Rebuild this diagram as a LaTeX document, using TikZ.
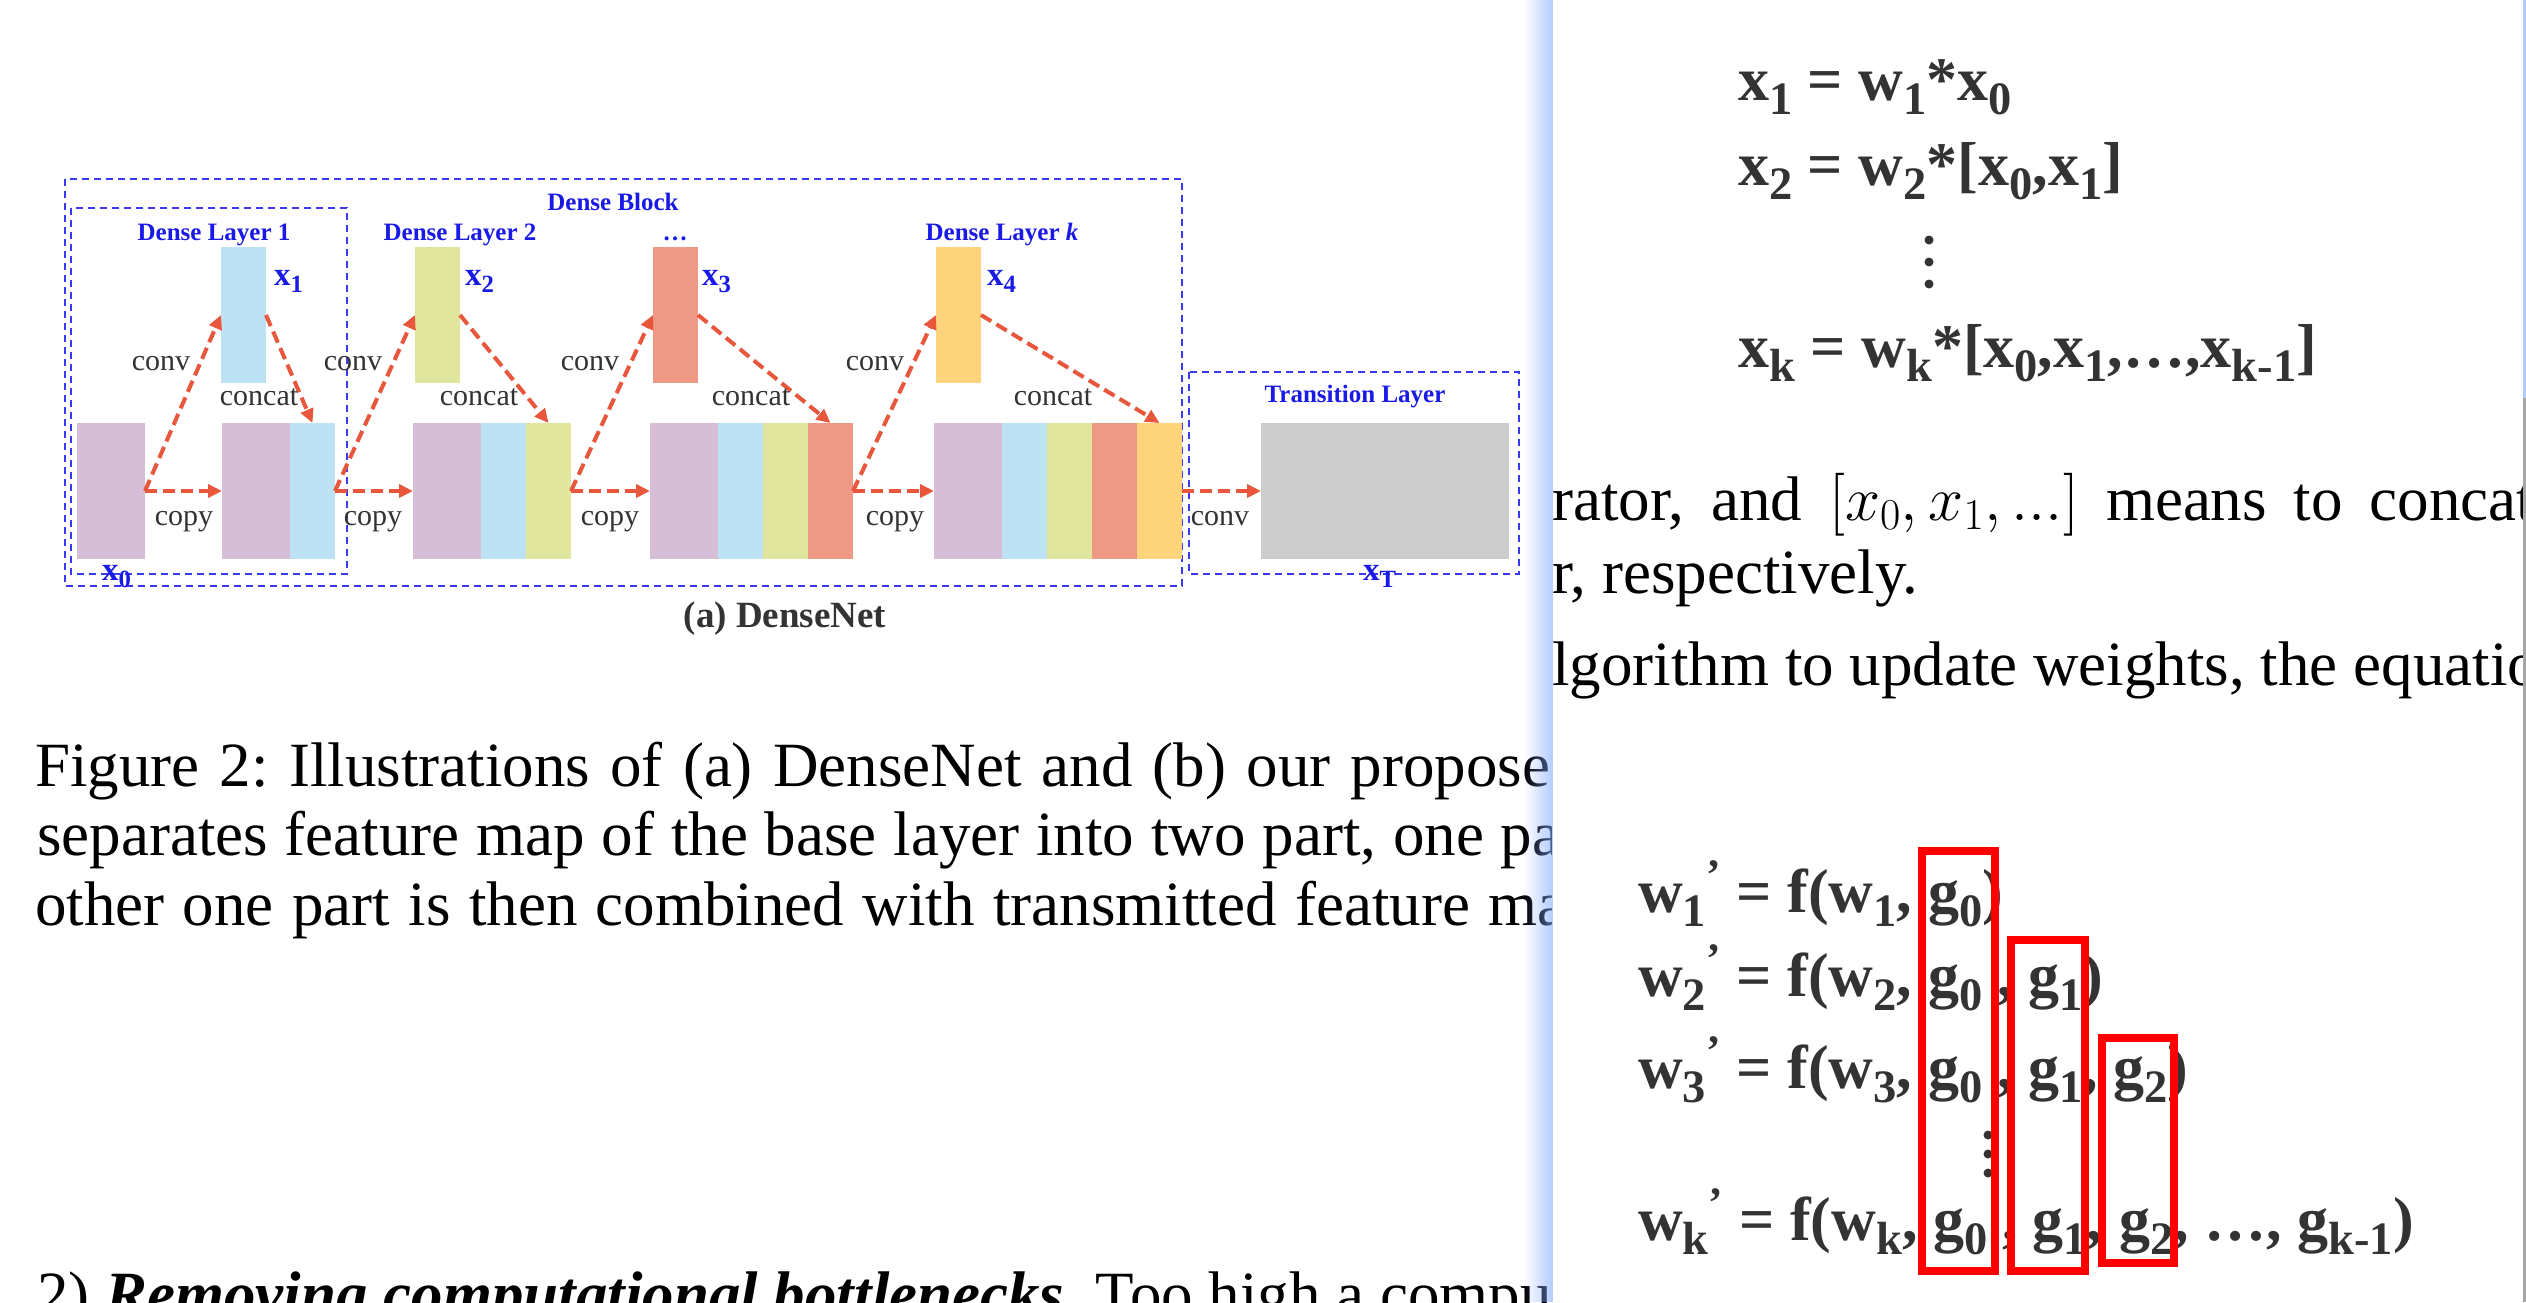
\RequirePackage{fix-cm}
\documentclass[tikz,border=0pt]{standalone}
\usepackage{fontspec}
\setmainfont{Liberation Serif}
\usetikzlibrary{arrows.meta,positioning}
\frenchspacing

\definecolor{purp}{HTML}{D7BED7}
\definecolor{sky}{HTML}{BDE2F3}
\definecolor{lime}{HTML}{E1E69F}
\definecolor{salmon}{HTML}{EE9886}
\definecolor{amber}{HTML}{FDD47C}
\definecolor{slab}{HTML}{CCCCCC}
\definecolor{arrowred}{HTML}{E8563C}
\definecolor{boxblue}{HTML}{3A3AF5}
\definecolor{labblue}{HTML}{1A1AE6}
\definecolor{ink}{HTML}{333333}
\definecolor{winblue}{HTML}{7FA8FF}
\definecolor{markred}{HTML}{FF0000}

% large, low subscripts as in the scanned equations
\newcommand{\lowsub}[1]{\raisebox{-0.24em}{\scalebox{0.75}{#1}}}

\tikzset{
  bar/.style={inner sep=0pt, outer sep=0pt, minimum width=45, minimum height=136, anchor=west},
  flow/.style={-{Triangle[length=14pt,width=13pt]}, arrowred, line width=4pt, dash pattern=on 12pt off 6pt},
  dashframe/.style={boxblue, line width=2pt, dash pattern=on 7pt off 5pt},
  blocktitle/.style={text=labblue, font=\bfseries\fontsize{25}{30}\selectfont, anchor=base, inner sep=0pt},
  fmap/.style={text=labblue, font=\bfseries\fontsize{33}{36}\selectfont, anchor=base west, inner sep=0pt},
  oplabel/.style={text=ink, font=\fontsize{30}{36}\selectfont, anchor=base, inner sep=0pt},
  body/.style={text=black, font=\fontsize{63}{70}\selectfont, anchor=base west, inner sep=0pt},
  eq/.style={text=ink, font=\bfseries\fontsize{62}{70}\selectfont, anchor=base west, inner sep=0pt},
  hilite/.style={draw=markred, line width=8pt}
}

\begin{document}
\begin{tikzpicture}[x=1pt, y=-1pt]
  % screen area
  \path[use as bounding box, fill=white] (0,0) rectangle (2526,1302);
  \clip (0,0) rectangle (2526,1302);

  % Dense block and layer frames
  \draw[dashframe] (65,179) rectangle (1182,586);
  \draw[dashframe] (71,208) rectangle (347,574);
  \draw[dashframe] (1189,372) rectangle (1519,574);

  % Input feature map
  \node[bar, fill=purp, minimum width=68] (b0) at (77,491) {};
  % Dense layer 1
  \node[bar, fill=sky] (x1) at (221,315) {};
  \node[bar, fill=purp, minimum width=68] (c1a) at (222,491) {};
  \node[bar, fill=sky, right=0pt of c1a] (c1b) {};
  % Dense layer 2
  \node[bar, fill=lime] (x2) at (415,315) {};
  \node[bar, fill=purp, minimum width=68] (c2a) at (413,491) {};
  \node[bar, fill=sky, right=0pt of c2a] (c2b) {};
  \node[bar, fill=lime, right=0pt of c2b] (c2c) {};
  % Dense layer 3
  \node[bar, fill=salmon] (x3) at (653,315) {};
  \node[bar, fill=purp, minimum width=68] (c3a) at (650,491) {};
  \node[bar, fill=sky, right=0pt of c3a] (c3b) {};
  \node[bar, fill=lime, right=0pt of c3b] (c3c) {};
  \node[bar, fill=salmon, right=0pt of c3c] (c3d) {};
  % Dense layer k
  \node[bar, fill=amber] (x4) at (936,315) {};
  \node[bar, fill=purp, minimum width=68] (c4a) at (934,491) {};
  \node[bar, fill=sky, right=0pt of c4a] (c4b) {};
  \node[bar, fill=lime, right=0pt of c4b] (c4c) {};
  \node[bar, fill=salmon, right=0pt of c4c] (c4d) {};
  \node[bar, fill=amber, right=0pt of c4d] (c4e) {};
  % Transition output
  \node[bar, fill=slab, minimum width=248] (xt) at (1261,491) {};

  % conv / concat / copy arrows
  \draw[flow] (b0.east) -- (x1.west);
  \draw[flow] (x1.east) -- (c1b.north);
  \draw[flow] (b0.east) -- (c1a.west);
  \draw[flow] (c1b.east) -- (x2.west);
  \draw[flow] (x2.east) -- (c2c.north);
  \draw[flow] (c1b.east) -- (c2a.west);
  \draw[flow] (c2c.east) -- (x3.west);
  \draw[flow] (x3.east) -- (c3d.north);
  \draw[flow] (c2c.east) -- (c3a.west);
  \draw[flow] (c3d.east) -- (x4.west);
  \draw[flow] (x4.east) -- (c4e.north);
  \draw[flow] (c3d.east) -- (c4a.west);
  \draw[flow] (c4e.east) -- (xt.west);

  % Block titles
  \node[blocktitle] (dblock) at (613,210) {Dense Block};
  \node[blocktitle] (dl1) at (214,240) {Dense Layer 1};
  \node[blocktitle] (dl2) at (460,240) {Dense Layer 2};
  \node[blocktitle] (dl3) at (675,240) {…};
  \node[blocktitle] (dlk) at (1002,240) {Dense Layer \textit{k}};
  \node[blocktitle] (tlayer) at (1355,402) {Transition Layer};

  % Feature map names
  \node[fmap] (lx0) at (102,580) {x\lowsub{0}};
  \node[fmap] (lx1) at (274,285) {x\lowsub{1}};
  \node[fmap] (lx2) at (465,285) {x\lowsub{2}};
  \node[fmap] (lx3) at (702,285) {x\lowsub{3}};
  \node[fmap] (lx4) at (987,285) {x\lowsub{4}};
  \node[fmap] (lxt) at (1363,580) {x\lowsub{T}};

  % Operation labels
  \node[oplabel] (conv1) at (161,370) {conv};
  \node[oplabel] (conv2) at (353,370) {conv};
  \node[oplabel] (conv3) at (590,370) {conv};
  \node[oplabel] (conv4) at (875,370) {conv};
  \node[oplabel] (convt) at (1220,525) {conv};
  \node[oplabel] (cat1) at (259,405) {concat};
  \node[oplabel] (cat2) at (479,405) {concat};
  \node[oplabel] (cat3) at (751,405) {concat};
  \node[oplabel] (cat4) at (1053,405) {concat};
  \node[oplabel] (copy1) at (184,525) {copy};
  \node[oplabel] (copy2) at (373,525) {copy};
  \node[oplabel] (copy3) at (610,525) {copy};
  \node[oplabel] (copy4) at (895,525) {copy};
  \node[text=ink, font=\bfseries\fontsize{37}{40}\selectfont, anchor=base, inner sep=0pt] (subcap) at (785,627) {(a) DenseNet};

  % Page text
  \node[body] (line1) at (35,786) {\makebox[1515pt][s]{Figure 2: Illustrations of (a) DenseNet and (b) our propose}d};
  \node[body] (line2) at (37,855) {\makebox[1495pt][s]{separates feature map of the base layer into two part, one p}art};
  \node[body] (line3) at (35,925) {\makebox[1502pt][s]{other one part is then combined with transmitted feature m}ap};
  \node[body] (line4) at (37,1315) {2) \textbf{\textit{Removing computational bottlenecks}}. Too high a compu};

  % Overlay window
  \fill[white] (1552,0) rectangle (2526,1302);
  \foreach \i [evaluate=\i as \op using {0.04*\i}] in {0,...,14}
    \fill[winblue, opacity=\op] (1523+2*\i,0) rectangle ++(2,1302);
  \begin{scope}
    \clip (1552,0) rectangle (2522,1302);
    \node[body] (w-t1) at (1552,520) {\spaceskip=27pt\relax rator, and $[x_0, x_1, ...]$ means to concatenate};
    \node[body] (w-t2) at (1552,593) {r, respectively.};
    \node[body] (w-t3) at (1552,685) {lgorithm to update weights, the equations};
  \end{scope}

  % Forward equations
  \node[eq] (e1) at (1738,100) {x\lowsub{1} = w\lowsub{1}*x\lowsub{0}};
  \node[eq] (e2) at (1738,185) {x\lowsub{2} = w\lowsub{2}*[x\lowsub{0},x\lowsub{1}]};
  \fill[ink] (1929,240) circle (4.5) (1929,262) circle (4.5) (1929,284) circle (4.5);
  \node[eq] (ek) at (1738,367) {x\lowsub{k} = w\lowsub{k}*[x\lowsub{0},x\lowsub{1},…,x\lowsub{k-1}]};

  % Weight updates
  \node[eq] (u1) at (1638,912) {w\lowsub{1}\textsuperscript{’} = f(w\lowsub{1},};
  \node[eq] (u1a) at (1928,912) {g\lowsub{0})};
  \node[eq] (u2) at (1638,996) {w\lowsub{2}\textsuperscript{’} = f(w\lowsub{2},};
  \node[eq] (u2a) at (1928,996) {g\lowsub{0} ,};
  \node[eq] (u2b) at (2028,996) {g\lowsub{1})};
  \node[eq] (u3) at (1638,1088) {w\lowsub{3}\textsuperscript{’} = f(w\lowsub{3},};
  \node[eq] (u3a) at (1928,1088) {g\lowsub{0} ,};
  \node[eq] (u3b) at (2028,1088) {g\lowsub{1},};
  \node[eq] (u3c) at (2113,1088) {g\lowsub{2})};
  \fill[ink] (1988,1135) circle (4.5) (1988,1154) circle (4.5) (1988,1173) circle (4.5);
  \node[eq] (uk) at (1638,1240) {w\lowsub{k}\textsuperscript{’} = f(w\lowsub{k},};
  \node[eq] (uka) at (1933,1240) {g\lowsub{0} ,};
  \node[eq] (ukb) at (2032,1240) {g\lowsub{1},};
  \node[eq] (ukc) at (2119,1240) {g\lowsub{2}, …, g\lowsub{k-1})};

  % Highlight boxes
  \draw[hilite] (1922,851) rectangle (1995,1271);
  \draw[hilite] (2011,940) rectangle (2085,1271);
  \draw[hilite] (2102,1038) rectangle (2174,1263);

  % Window right edge
  \draw[winblue!60, line width=3pt] (2524.5,0) -- (2524.5,398);
  \draw[gray!70, line width=3pt] (2524.5,398) -- (2524.5,1302);
\end{tikzpicture}
\end{document}
